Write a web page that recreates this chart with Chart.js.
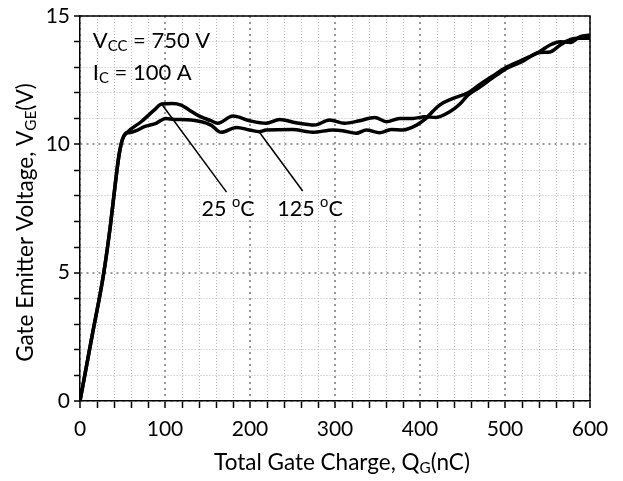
<!DOCTYPE html>
<html>
<head>
<meta charset="utf-8">
<script src="https://cdn.jsdelivr.net/npm/chart.js@4.4.1/dist/chart.umd.min.js"></script>
<style>
  html, body { margin: 0; padding: 0; background: #fff; }
</style>
</head>
<body>
<canvas id="gateChart" width="623" height="481"></canvas>
<script>
// GATE CHARGE DATA (QG in nC, VGE in V)
let riseQ = [0, 14, 28, 36, 42, 46, 50, 55];
let riseV = [0, 2.5, 5, 6.9, 8.6, 9.6, 10.2, 10.45];

let q25 = [72, 87.5, 96, 108, 119, 128, 140.5, 154, 162, 180, 199.5, 219, 235, 254, 276, 293.7, 311, 329, 346.7, 360.5, 376, 392, 405.6, 419, 435, 447, 456.6, 470, 485, 500, 520, 541, 553, 565, 577, 588, 600];
let v25 = [10.88, 11.34, 11.57, 11.59, 11.53, 11.35, 11.1, 10.92, 10.82, 11.1, 10.92, 10.82, 10.97, 10.84, 10.75, 10.95, 10.82, 10.92, 11.05, 10.88, 11.01, 11.01, 11.07, 11.05, 11.27, 11.57, 11.92, 12.22, 12.58, 12.92, 13.22, 13.58, 13.6, 13.87, 14.09, 14.13, 14.13];

let q125 = [58, 66, 75.8, 89.5, 101, 111, 130.8, 154, 166, 184, 199.5, 211, 219, 250, 274, 297.6, 309, 325, 337, 352.6, 366, 380, 396, 405.6, 423, 439, 456.6, 470, 485, 500, 520, 541, 553, 565, 577, 588, 600];
let v125 = [10.45, 10.53, 10.69, 10.82, 11.01, 10.97, 10.95, 10.75, 10.47, 10.66, 10.56, 10.49, 10.56, 10.58, 10.47, 10.56, 10.53, 10.43, 10.56, 10.45, 10.58, 10.56, 10.75, 10.97, 11.53, 11.79, 12.01, 12.32, 12.65, 12.97, 13.28, 13.62, 13.87, 14.0, 13.97, 14.19, 14.26];

// leader lines from the labels to the curves
let lead25Q = [96, 172.4];
let lead25V = [11.57, 8.14];
let lead125Q = [210, 262];
let lead125V = [10.52, 8.18];

let xTicks = [0, 100, 200, 300, 400, 500, 600];
let yTicks = [0, 5, 10, 15];

const FONT = 'Lato';

function toPoints(qs, vs) {
    return qs.map((q, i) => ({ x: q, y: vs[i] }));
}

let curve25 = toPoints(riseQ.concat(q25), riseV.concat(v25));
let curve125 = toPoints(riseQ.concat(q125), riseV.concat(v125));

// text with sub / superscripts
function richText(ctx, parts, x, y, size, align) {
    let total = 0;
    parts.forEach(p => {
        let s = (p.sub || p.sup) ? size * 0.68 : size;
        ctx.font = s + 'px ' + FONT;
        p.w = ctx.measureText(p.t).width;
        total += p.w;
    });
    let cx = align === 'center' ? x - total / 2 : x;
    parts.forEach(p => {
        let s = (p.sub || p.sup) ? size * 0.68 : size;
        ctx.font = s + 'px ' + FONT;
        let dy = p.sub ? size * 0.14 : (p.sup ? -size * 0.42 : 0);
        ctx.fillText(p.t, cx, y + dy);
        cx += p.w;
    });
}

const textPlugin = {
    id: 'textPlugin',
    beforeDatasetsDraw(chart) {
        let { ctx, chartArea } = chart;
        ctx.save();
        ctx.strokeStyle = '#000';
        ctx.lineWidth = 1.5;
        ctx.beginPath();
        ctx.moveTo(chartArea.left, chartArea.top);
        ctx.lineTo(chartArea.right, chartArea.top);
        ctx.lineTo(chartArea.right, chartArea.bottom);
        ctx.stroke();
        ctx.restore();
    },
    afterDraw(chart) {
        let { ctx, chartArea, scales } = chart;
        let xs = scales.x, ys = scales.y;
        ctx.save();
        ctx.fillStyle = '#000';
        ctx.textBaseline = 'alphabetic';

        // axis titles
        richText(ctx, [{ t: 'Total Gate Charge, Q' }, { t: 'G', sub: true }, { t: '(nC)' }],
            (chartArea.left + chartArea.right) / 2 + 7, 470, 22.5, 'center');

        ctx.save();
        ctx.translate(33, (chartArea.top + chartArea.bottom) / 2 + 14);
        ctx.rotate(-Math.PI / 2);
        richText(ctx, [{ t: 'Gate Emitter Voltage, V' }, { t: 'GE', sub: true }, { t: '(V)' }], 0, 0, 22.5, 'center');
        ctx.restore();

        // annotations
        richText(ctx, [{ t: 'V' }, { t: 'CC', sub: true }, { t: ' = 750 V' }],
            xs.getPixelForValue(15), ys.getPixelForValue(13.75), 22, 'left');
        richText(ctx, [{ t: 'I' }, { t: 'C', sub: true }, { t: ' = 100 A' }],
            xs.getPixelForValue(15), ys.getPixelForValue(12.5), 22, 'left');
        richText(ctx, [{ t: '25 ' }, { t: 'o', sup: true }, { t: 'C' }],
            xs.getPixelForValue(143), ys.getPixelForValue(7.22), 21.5, 'left');
        richText(ctx, [{ t: '125 ' }, { t: 'o', sup: true }, { t: 'C' }],
            xs.getPixelForValue(232), ys.getPixelForValue(7.22), 21.5, 'left');
        ctx.restore();
    }
};

function isMajor(c, step) {
    return c.tick && Math.abs(c.tick.value % step) < 1e-6;
}

let ctx = document.querySelector('#gateChart').getContext('2d');

let gateChart = new Chart(ctx, {
    type: 'line',
    data: {
        datasets: [
            {
                label: '25 °C',
                data: curve25,
                borderColor: '#000',
                borderWidth: 3.5,
                pointRadius: 0,
                cubicInterpolationMode: 'monotone'
            },
            {
                label: '125 °C',
                data: curve125,
                borderColor: '#000',
                borderWidth: 3.5,
                pointRadius: 0,
                cubicInterpolationMode: 'monotone'
            },
            {
                data: toPoints(lead25Q, lead25V),
                borderColor: '#000',
                borderWidth: 1.5,
                pointRadius: 0
            },
            {
                data: toPoints(lead125Q, lead125V),
                borderColor: '#000',
                borderWidth: 1.5,
                pointRadius: 0
            }
        ]
    },
    options: {
        responsive: false,
        animation: false,
        layout: {
            padding: { top: 16, right: 33, left: 0, bottom: 0 }
        },
        plugins: {
            legend: { display: false },
            tooltip: { enabled: false }
        },
        scales: {
            x: {
                type: 'linear',
                min: 0,
                max: 600,
                ticks: {
                    stepSize: 20,
                    autoSkip: false,
                    maxRotation: 0,
                    padding: 9,
                    color: '#000',
                    font: { family: FONT, size: 21 },
                    callback: v => xTicks.includes(v) ? v : ''
                },
                grid: {
                    color: c => isMajor(c, 100) ? '#9a9a9a' : '#b8b8b8',
                    lineWidth: c => isMajor(c, 100) ? 2 : 1,
                    tickColor: '#000',
                    tickLength: 7,
                    tickWidth: 1.5
                },
                border: {
                    color: '#000',
                    width: 1.5,
                    dash: c => isMajor(c, 100) ? [2, 4] : [1, 2]
                },
                afterFit: s => {
                    s.height = 80;
                    s.paddingLeft = 0;
                    s.paddingRight = 0;
                }
            },
            y: {
                min: 0,
                max: 15,
                ticks: {
                    stepSize: 1,
                    autoSkip: false,
                    padding: 4,
                    color: '#000',
                    font: { family: FONT, size: 21 },
                    callback: v => yTicks.includes(v) ? v : ''
                },
                grid: {
                    color: c => isMajor(c, 5) ? '#9a9a9a' : '#b8b8b8',
                    lineWidth: c => isMajor(c, 5) ? 2 : 1,
                    tickColor: '#000',
                    tickLength: 6,
                    tickWidth: 1.5
                },
                border: {
                    color: '#000',
                    width: 1.5,
                    dash: c => isMajor(c, 5) ? [2, 4] : [1, 2]
                },
                afterFit: s => {
                    s.width = 80;
                    s.paddingTop = 0;
                    s.paddingBottom = 0;
                }
            }
        }
    },
    plugins: [textPlugin]
});
</script>
</body>
</html>
